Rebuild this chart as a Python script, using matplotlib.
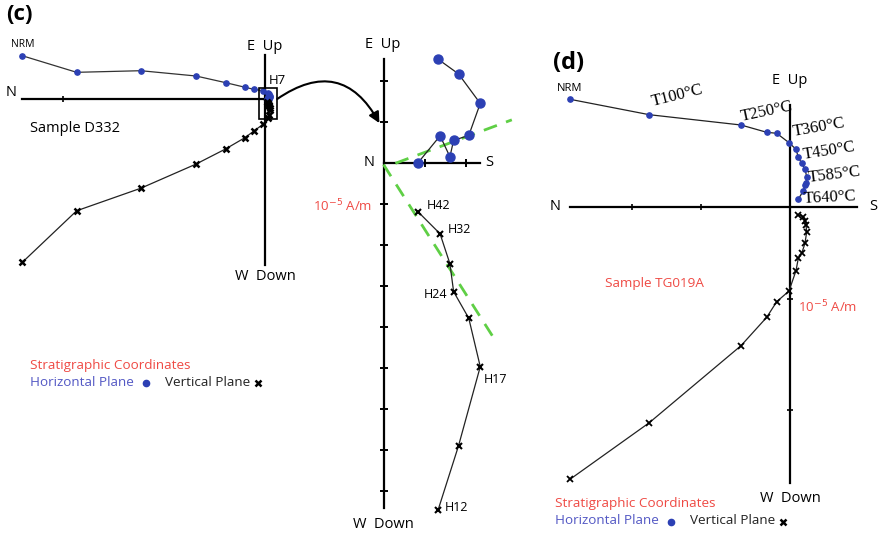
import matplotlib
matplotlib.use('Agg')
import matplotlib.pyplot as plt
from matplotlib.patches import Rectangle, ConnectionPatch

# ---------------- data (units: 1e-5 A/m, arbitrary for panel d) ----------------
# Panel (c) sample D332, main diagram (steps NRM .. H7 region, before the zoomed part)
c_x = [-105.5, -81.9, -54.0, -30.0, -17.1, -8.7, -4.8, -0.7]
c_horiz = [18.8, 11.6, 12.3, 10.0, 7.1, 5.1, 4.2, 3.6]
c_vert = [-71.0, -48.6, -38.8, -28.3, -21.7, -16.8, -13.9, -10.9]

# Panel (c) zoomed part (H12 ... H42)
z_x = [1.33, 1.83, 2.36, 2.08, 1.71, 1.62, 1.38, 0.84]
z_horiz = [2.54, 2.18, 1.46, 0.68, 0.56, 0.16, 0.67, 0.01]
z_vert = [-8.46, -6.89, -4.96, -3.78, -3.13, -2.45, -1.72, -1.18]
z_labels = {0: "H12", 2: "H17", 4: "H24", 6: "H32", 7: "H42"}
z_ticks_v = [2, 1, -1, -2, -3, -4, -5, -6, -7, -8]
z_ticks_h = [1, 2]
fit_h = ([0.29, 3.13], [0.0, 1.06])
fit_v = ([0.0, 2.72], [-0.03, -4.31])

# Panel (d) sample TG019A
d_x = [-22.0, -14.07, -4.9, -2.33, -1.33, -0.1, 0.6, 0.83, 1.17, 1.5, 1.67, 1.6, 1.53, 1.33, 0.83]
d_horiz = [10.74, 9.2, 8.17, 7.44, 7.34, 6.4, 5.74, 4.94, 4.34, 3.74, 3.0, 2.4, 2.17, 1.6, 0.74]
d_vert = [-27.26, -21.6, -13.9, -11.06, -9.5, -8.43, -6.4, -5.16, -4.66, -3.66, -2.5, -1.83, -1.4, -1.0, -0.83]
d_labels = {0: "NRM", 1: "T100°C", 2: "T250°C", 5: "T360°C", 7: "T450°C", 10: "T585°C", 14: "T640°C"}
d_ticks_h = [-15.8, -8.9]
d_ticks_v = [-9.2, -20.3]

# ---------------- style ----------------
plt.rcParams['font.family'] = ['Open Sans', 'DejaVu Sans']
BLUE = '#2c40b4'
RED = '#ef4a44'
BLUE_T = '#5358c4'
GREEN = '#5fcf45'
W, H = 882, 538

fig = plt.figure(figsize=(8.82, 5.38), dpi=100)


def overlay(name, ox, oy, s):
    ax = fig.add_axes([0, 0, 1, 1], label=name)
    ax.set_xlim(-ox / s, (W - ox) / s)
    ax.set_ylim(-(H - oy) / s, oy / s)
    ax.axis('off')
    ax.patch.set_alpha(0)
    return ax


axC = overlay('c', 265, 99, 2.3)
axI = overlay('inset', 383.5, 163.3, 41.0)
axD = overlay('d', 790, 206.7, 10.0)
axP = fig.add_axes([0, 0, 1, 1], label='pix')
axP.set_xlim(0, W); axP.set_ylim(H, 0); axP.axis('off'); axP.patch.set_alpha(0)

AX_LW = 1.6
LINE_LW = 0.9

# ---------------- panel (c) main ----------------
axC.plot([-105.7, 0], [0, 0], color='black', lw=AX_LW)
axC.plot([0, 0], [19.2, -72.0], color='black', lw=AX_LW)
axC.plot([-88], [0], marker='|', color='black', ms=4, mew=1.2)
cx_all = c_x + z_x
ch_all = c_horiz + z_horiz
cv_all = c_vert + z_vert
axC.plot(cx_all, ch_all, color='#333333', lw=LINE_LW, zorder=2)
axC.plot(cx_all, ch_all, 'o', color=BLUE, ms=3.8, zorder=3)
axC.plot(cx_all, cv_all, color='#222222', lw=LINE_LW, zorder=2)
axC.plot(cx_all, cv_all, 'x', color='black', ms=5, mew=1.8, zorder=3)
axC.add_patch(Rectangle((-2.6, -8.9), 7.8, 13.7, fill=False, ec='black', lw=1.2, zorder=4))
axC.annotate("NRM", (c_x[0], c_horiz[0]), xytext=(0, 11), textcoords='offset pixels',
             ha='center', va='center', fontsize=7.5)

# ---------------- panel (c) inset ----------------
axI.plot([0, 0], [2.55, -8.4], color='black', lw=AX_LW)
axI.plot([0, 2.36], [0, 0], color='black', lw=AX_LW)
axI.plot([0] * len(z_ticks_v), z_ticks_v, '_', color='black', ms=6, mew=1.4)
axI.plot(z_ticks_h, [0] * len(z_ticks_h), '|', color='black', ms=6, mew=1.4)
axI.plot(*fit_h, color=GREEN, lw=2, dashes=(5, 3.5), zorder=2)
axI.plot(*fit_v, color=GREEN, lw=2, dashes=(5, 3.5), zorder=2)
axI.plot(z_x, z_horiz, color='#222222', lw=LINE_LW, zorder=3)
axI.plot(z_x, z_horiz, 'o', color=BLUE, ms=6.5, zorder=4)
axI.plot(z_x, z_vert, color='#222222', lw=LINE_LW, zorder=3)
axI.plot(z_x, z_vert, 'x', color='black', ms=5, mew=1.5, zorder=4)
offs = {0: (7, 3, 'left'), 2: (3, -13, 'left'), 4: (-6, -3, 'right'), 6: (8, 4, 'left'), 7: (9, 6, 'left')}
for i, lab in z_labels.items():
    dx, dy, ha = offs[i]
    axI.annotate(lab, (z_x[i], z_vert[i]), xytext=(dx, dy), textcoords='offset pixels',
                 ha=ha, va='center', fontsize=9)

# curved arrow from box to inset
con = ConnectionPatch(xyA=(5.3, 0.0), coordsA=axC.transData,
                      xyB=(-0.1, 0.98), coordsB=axI.transData,
                      arrowstyle='-|>', connectionstyle='arc3,rad=-0.55',
                      lw=1.5, color='black', mutation_scale=16)
fig.add_artist(con)

# ---------------- panel (d) ----------------
axD.plot([-22.0, 6.67], [0, 0], color='black', lw=AX_LW)
axD.plot([0, 0], [10.2, -27.6], color='black', lw=AX_LW)
axD.plot(d_ticks_h, [0] * len(d_ticks_h), '|', color='black', ms=4, mew=1.2)
axD.plot([0] * len(d_ticks_v), d_ticks_v, '_', color='black', ms=4, mew=1.2)
axD.plot(d_x, d_horiz, color='#222222', lw=LINE_LW, zorder=2)
axD.plot(d_x, d_horiz, 'o', color=BLUE, ms=3.8, zorder=3)
axD.plot(d_x, d_vert, color='#222222', lw=LINE_LW, zorder=2)
axD.plot(d_x, d_vert, 'x', color='black', ms=3.8, mew=1.3, zorder=3)
dlab = {1: (2, 13, 14), 2: (0, 8, 12), 5: (4, 11, 10), 7: (5, 2, 9), 10: (2, -1, 7), 14: (5, 0, 3)}
axD.annotate(d_labels[0], (d_x[0], d_horiz[0]), xytext=(0, 11), textcoords='offset pixels',
             ha='center', va='center', fontsize=8)
for i, (dx, dy, rot) in dlab.items():
    axD.annotate(d_labels[i], (d_x[i], d_horiz[i]), xytext=(dx, dy), textcoords='offset pixels',
                 ha='left', va='center', fontsize=12, rotation=rot, rotation_mode='anchor',
                 family=['Liberation Serif', 'DejaVu Serif'])

# ---------------- free text (pixel coordinates) ----------------
def t(x, y, s, **kw):
    kw.setdefault('fontsize', 10.5)
    kw.setdefault('va', 'center')
    axP.text(x, y, s, **kw)

t(6, 15, "(c)", fontsize=16, fontweight='bold', ha='left')
t(553, 63, "(d)", fontsize=17, fontweight='bold', ha='left')
# panel c main
t(6, 93, "N", ha='left')
t(265, 46, "E  Up", ha='center')
t(265, 276, "W  Down", ha='center')
t(277, 81, "H7", ha='center', fontsize=9.5)
t(30, 128, "Sample D332", ha='left', fontsize=10.5)
# inset
t(383, 45, "E  Up", ha='center')
t(369, 163, "N", ha='center')
t(485, 163, "S", ha='left')
t(383, 524, "W  Down", ha='center')
t(372, 206, r"10$^{-5}$ A/m", ha='right', color=RED, fontsize=9.5)
# panel d
t(790, 80, "E  Up", ha='center')
t(555, 207, "N", ha='center')
t(869, 207, "S", ha='left')
t(790, 498, "W  Down", ha='center')
t(605, 283, "Sample TG019A", ha='left', color=RED, fontsize=9.7)
t(798, 307, r"10$^{-5}$ A/m", ha='left', color=RED, fontsize=9.5)

# legends
def legend(x, y):
    t(x, y, "Stratigraphic Coordinates", ha='left', color=RED, fontsize=9.7)
    t(x, y + 17, "Horizontal Plane", ha='left', color=BLUE_T, fontsize=9.7)
    axP.plot([x + 116], [y + 18], 'o', color=BLUE, ms=4.5)
    t(x + 135, y + 17, "Vertical Plane", ha='left', color='#222222', fontsize=9.7)
    axP.plot([x + 228], [y + 18], 'x', color='black', ms=5, mew=1.8)

legend(30, 365)
legend(555, 504)

fig.savefig('out.png', dpi=100)
